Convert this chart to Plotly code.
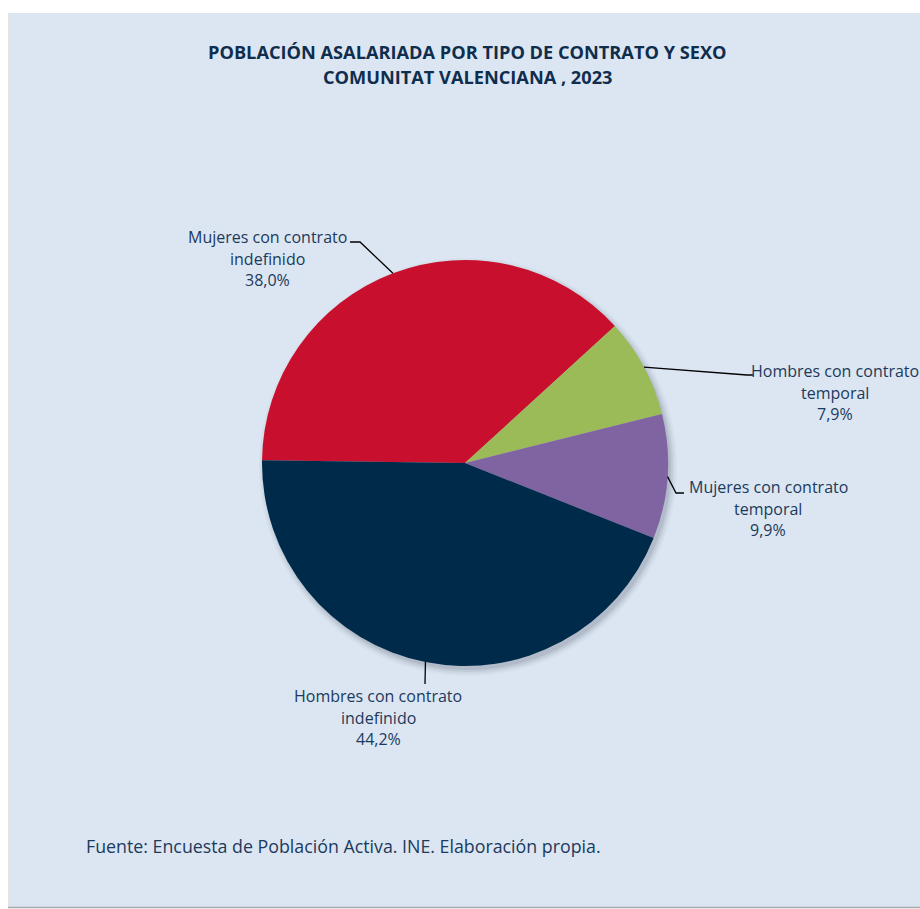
import math
import plotly.graph_objects as go

# ---- data ----
categories = ["Mujeres con contrato indefinido", "Hombres con contrato temporal",
              "Mujeres con contrato temporal", "Hombres con contrato indefinido"]
label_lines = [["Mujeres con contrato", "indefinido"],
               ["Hombres con contrato", "temporal"],
               ["Mujeres con contrato", "temporal"],
               ["Hombres con contrato", "indefinido"]]
values = [38.0, 7.9, 9.9, 44.2]
colors = ["#C8102E", "#9BBB59", "#8064A2", "#002A4A"]

title_lines = ["POBLACIÓN ASALARIADA POR TIPO DE CONTRATO Y SEXO",
               "COMUNITAT VALENCIANA , 2023"]
source_text = "Fuente: Encuesta de Población Activa. INE. Elaboración propia."

# ---- layout params (pixels in the browser window) ----
OFF = 0
W, H = 920, 909
CX, CY, R = 465, 463, 203
ROTATION = 270.8
BG = "#DCE6F2"
TXT = "#1B3A5C"
FONT = "Open Sans"

# label placement: text center x, first line y, elbow point, end point
label_pos = [
    dict(tx=267, ty=237, elbow=(360, 242), end=(350, 242)),
    dict(tx=835, ty=371, elbow=(747, 375), end=(753, 375)),
    dict(tx=768, ty=487, elbow=(676, 493), end=(684, 493)),
    dict(tx=378, ty=696, elbow=(425, 684), end=(425, 684)),
]
LINE_H = 21.5


def px(x):
    return (x - OFF) / W


def py(y):
    return 1 - (y - OFF) / H


fig = go.Figure()
fig.add_trace(go.Pie(
    labels=categories, values=values, sort=False, direction="clockwise",
    rotation=ROTATION, marker=dict(colors=colors, line=dict(width=0)),
    textinfo="none", hoverinfo="label+percent", showlegend=False,
    domain=dict(x=[px(CX - R), px(CX + R)], y=[py(CY + R), py(CY - R)]),
))

shapes = []
# panel background
shapes.append(dict(type="rect", xref="paper", yref="paper", x0=px(8), x1=1.0,
                   y0=py(907), y1=py(13), fillcolor=BG, line=dict(width=0), layer="below"))
shapes.append(dict(type="line", xref="paper", yref="paper", x0=px(8), x1=1.0,
                   y0=py(907.5), y1=py(907.5), line=dict(color="#A8A8A8", width=1.5), layer="below"))
shapes.append(dict(type="line", xref="paper", yref="paper", x0=px(8.5), x1=px(8.5),
                   y0=py(907), y1=py(13), line=dict(color="#E6E2DE", width=1), layer="below"))
# soft shadow behind pie
for k, op in [(9, 0.03), (7, 0.05), (5, 0.07), (3, 0.10)]:
    ox, oy = 3, 4
    shapes.append(dict(type="circle", xref="paper", yref="paper",
                       x0=px(CX + ox - R - k + 3), x1=px(CX + ox + R + k - 3),
                       y0=py(CY + oy + R + k - 3), y1=py(CY + oy - R - k + 3),
                       fillcolor="rgba(40,50,70,%.2f)" % op, line=dict(width=0), layer="below"))

annotations = []
total = sum(values)
cum = 0.0
for i, v in enumerate(values):
    mid = math.radians(ROTATION + (cum + v / 2) / total * 360)
    cum += v
    sx = CX + R * math.sin(mid)
    sy = CY - R * math.cos(mid)
    lp = label_pos[i]
    ex, ey = lp["elbow"]
    fx, fy = lp["end"]
    shapes.append(dict(type="path", xref="paper", yref="paper",
                       path="M %f %f L %f %f L %f %f" % (px(sx), py(sy), px(ex), py(ey), px(fx), py(fy)),
                       line=dict(color="#000000", width=1.3), layer="above"))
    pct = ("%.1f" % (v / total * 100)).replace(".", ",") + "%"
    lines = label_lines[i] + [pct]
    for j, t in enumerate(lines):
        annotations.append(dict(text=t, x=px(lp["tx"]), y=py(lp["ty"] + j * LINE_H),
                                xref="paper", yref="paper", showarrow=False,
                                xanchor="center", yanchor="middle",
                                font=dict(family=FONT, size=16, color=TXT)))

for j, t in enumerate(title_lines):
    annotations.append(dict(text="<b>%s</b>" % t, x=px(467), y=py(52 + j * 25),
                            xref="paper", yref="paper", showarrow=False,
                            xanchor="center", yanchor="middle",
                            font=dict(family=FONT, size=18.2, color="#0F2D4D")))
annotations.append(dict(text=source_text, x=px(84), y=py(846), xref="paper", yref="paper",
                        showarrow=False, xanchor="left", yanchor="middle",
                        font=dict(family=FONT, size=17.8, color=TXT)))

fig.update_layout(width=W, height=H, margin=dict(l=0, r=0, t=0, b=0),
                  paper_bgcolor="#FFFFFF", plot_bgcolor="#FFFFFF",
                  shapes=shapes, annotations=annotations)
fig.write_html("out.html",
               config={"displayModeBar": False},
               post_script="document.body.style.margin='0';"
                           "document.documentElement.style.overflow='hidden';"
                           "document.body.style.overflow='hidden';")
